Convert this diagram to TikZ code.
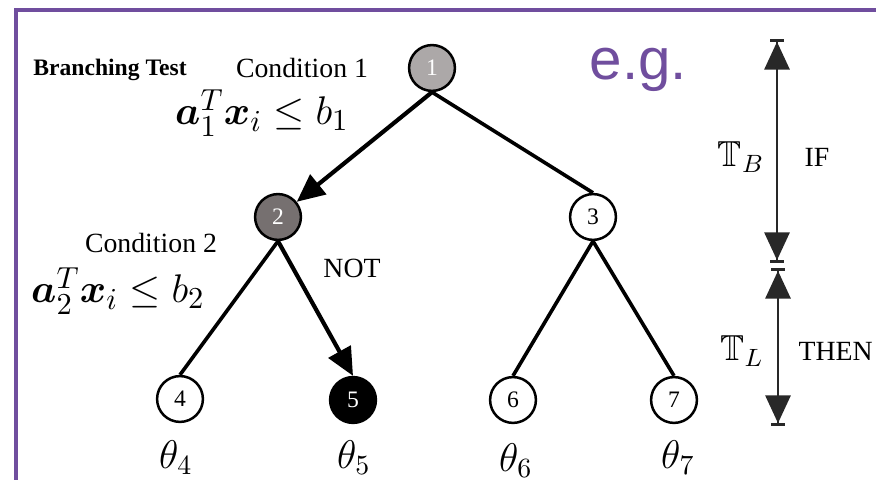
\documentclass[tikz,border=0pt]{standalone}
\usepackage{amsmath,amssymb}
\usepackage{fontspec}
\setmainfont{Liberation Serif}
\newfontfamily\egfont{Liberation Sans}
\usepackage{xcolor}
\usetikzlibrary{arrows.meta}
\definecolor{framepurple}{RGB}{112,78,158}
\definecolor{rootgray}{RGB}{172,168,168}
\definecolor{midgray}{RGB}{118,112,112}
\definecolor{dimgray}{RGB}{40,40,40}

\begin{document}
\begin{tikzpicture}[
  x=0.36pt, y=-0.36pt,
  font=\fontsize{10}{12}\selectfont,
  tnode/.style={circle, draw, line width=0.9pt, minimum size=16.5pt, inner sep=0pt, fill=white, font=\fontsize{8.5}{9}\selectfont},
  edge/.style={line width=1.3pt},
  arr/.style={line width=1.5pt, -{Triangle[length=10pt,width=9pt]}},
  dim/.style={line width=1pt, draw=dimgray, {Bar[width=5pt,line width=1pt]Triangle[length=10pt,width=9pt]}-{Triangle[length=10pt,width=9pt]Bar[width=5pt,line width=1pt]}},
  formula/.style={font=\fontsize{15}{18}\selectfont},
  leaf/.style={font=\fontsize{14}{16}\selectfont},
  part/.style={font=\fontsize{13}{15}\selectfont}
]
\useasboundingbox (0,0) rectangle (876,480);
% frame
\coordinate (fa) at (16,482);
\coordinate (fb) at (16,10);
\coordinate (fc) at (878,10);
\draw[framepurple, line width=1.2pt] (fa) -- (fb) -- (fc);
% tree
\node[tnode, fill=rootgray, text=white] (n1) at (432,68) {1};
\node[tnode, fill=midgray, text=white] (n2) at (278,217) {2};
\node[tnode] (n3) at (593,217) {3};
\node[tnode] (n4) at (180,399) {4};
\node[tnode, fill=black, text=white] (n5) at (353,400) {5};
\node[tnode] (n6) at (513,400) {6};
\node[tnode] (n7) at (674,400) {7};
% leaf parameters
\node[leaf] (t4) at (176,458) {$\theta_4$};
\node[leaf] (t5) at (354,458) {$\theta_5$};
\node[leaf] (t6) at (516,461) {$\theta_6$};
\node[leaf] (t7) at (678,458) {$\theta_7$};
% labels
\node[font=\bfseries\fontsize{8.5}{10}\selectfont] (bt) at (110,70) {Branching Test};
\node (c1) at (302,68) {Condition 1};
\node[formula] (f1) at (262,113) {$\boldsymbol{a}_1^T\boldsymbol{x}_i\leq b_1$};
\node (c2) at (151,243) {Condition 2};
\node[formula] (f2) at (118,291) {$\boldsymbol{a}_2^T\boldsymbol{x}_i\leq b_2$};
\node (nt) at (352,268) {NOT};
\node[anchor=base west, text=framepurple, font=\egfont\fontsize{21}{24}\selectfont, inner sep=0pt] (eg) at (589,80) {e.g.};
% edges
\draw[arr] (n1.south) -- (n2);
\draw[edge] (n1.south) -- (n3.north);
\draw[edge] (n2.south) -- (n4.north);
\draw[arr] (n2.south) -- (n5.north);
\foreach \c in {n6,n7} \draw[edge] (n3.south) -- (\c.north);
% depth arrows
\coordinate (ba) at (777,39);
\coordinate (bb) at (777,263);
\coordinate (la) at (778,268);
\coordinate (lb) at (778,426);
\draw[dim] (ba) -- (bb);
\draw[dim] (la) -- (lb);
\node[part] (tb) at (741,157) {$\mathbb{T}_B$};
\node (if) at (817,157) {IF};
\node[part] (tl) at (742,351) {$\mathbb{T}_L$};
\node[anchor=west, inner sep=0pt] (then) at (798,351) {THEN};
\end{tikzpicture}
\end{document}
